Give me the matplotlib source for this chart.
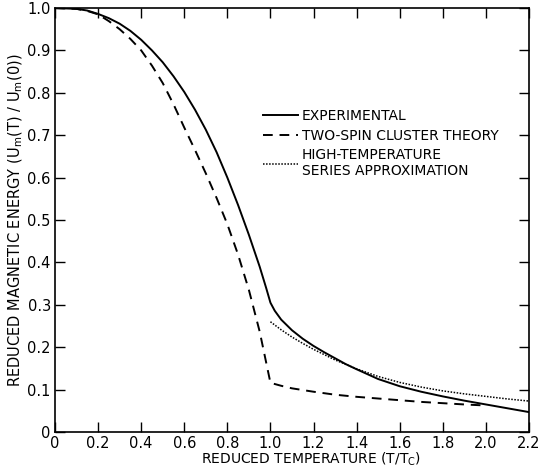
import matplotlib
matplotlib.use("Agg")
import matplotlib.pyplot as plt

# experimental curve
t_exp = [0.0, 0.1, 0.15, 0.2, 0.25, 0.3, 0.35, 0.4, 0.45, 0.5, 0.55, 0.6, 0.65, 0.7,
         0.75, 0.8, 0.85, 0.9, 0.95, 0.98, 1.0,
         1.02, 1.05, 1.1, 1.15, 1.2, 1.25, 1.3, 1.35, 1.4, 1.5, 1.6, 1.7, 1.8, 1.9,
         2.0, 2.1, 2.2]
u_exp = [1.0, 0.998, 0.994, 0.986, 0.976, 0.963, 0.946, 0.925, 0.900, 0.872, 0.839, 0.802,
         0.760, 0.713, 0.660, 0.600, 0.535, 0.465, 0.390, 0.340, 0.305,
         0.286, 0.265, 0.240, 0.220, 0.203, 0.188, 0.174, 0.160, 0.148, 0.125, 0.108,
         0.095, 0.084, 0.074, 0.065, 0.056, 0.047]

# two-spin cluster theory
t_cluster = [0.0, 0.1, 0.15, 0.2, 0.25, 0.3, 0.35, 0.4, 0.45, 0.5, 0.55, 0.6, 0.65, 0.7,
             0.75, 0.8, 0.85, 0.9, 0.95, 1.0,
             1.05, 1.1, 1.2, 1.3, 1.4, 1.5, 1.6, 1.7, 1.8, 1.9, 1.98]
u_cluster = [1.0, 0.998, 0.993, 0.985, 0.969, 0.950, 0.927, 0.900, 0.864, 0.823, 0.773, 0.718,
             0.665, 0.610, 0.552, 0.490, 0.418, 0.335, 0.237, 0.116,
             0.109, 0.103, 0.095, 0.088, 0.083, 0.079, 0.075, 0.071, 0.068, 0.065, 0.063]

# high-temperature series approximation
t_series = [1.0, 1.05, 1.1, 1.15, 1.2, 1.3, 1.4, 1.5, 1.6, 1.7, 1.8, 1.9, 2.0, 2.1, 2.2]
u_series = [0.260, 0.241, 0.224, 0.209, 0.195, 0.170, 0.149, 0.131, 0.117, 0.106, 0.097,
            0.090, 0.084, 0.078, 0.073]

x_ticks = [0.0, 0.2, 0.4, 0.6, 0.8, 1.0, 1.2, 1.4, 1.6, 1.8, 2.0, 2.2]
x_labels = ["0", "0.2", "0.4", "0.6", "0.8", "1.0", "1.2", "1.4", "1.6", "1.8", "2.0", "2.2"]
y_ticks = [0.0, 0.1, 0.2, 0.3, 0.4, 0.5, 0.6, 0.7, 0.8, 0.9, 1.0]
y_labels = ["0", "0.1", "0.2", "0.3", "0.4", "0.5", "0.6", "0.7", "0.8", "0.9", "1.0"]

plt.rcParams["font.family"] = ["DejaVu Sans"]

fig = plt.figure(figsize=(5.41, 4.68), dpi=100)
ax = fig.add_axes([0.1017, 0.0769, 0.876, 0.906])

ax.plot(t_exp, u_exp, color="black", lw=1.4, label="EXPERIMENTAL")
ax.plot(t_cluster, u_cluster, color="black", lw=1.4, dashes=(5, 3.5),
        label="TWO-SPIN CLUSTER THEORY")
ax.plot(t_series, u_series, color="black", lw=1.1, dashes=(1, 1),
        label="HIGH-TEMPERATURE\nSERIES APPROXIMATION")

ax.set_xlim(0, 2.2)
ax.set_ylim(0, 1.0)
ax.set_xticks(x_ticks)
ax.set_xticklabels(x_labels)
ax.set_yticks(y_ticks)
ax.set_yticklabels(y_labels)
ax.tick_params(direction="in", length=7, width=1, top=True, right=True, labelsize=10.5, pad=3)
for s in ax.spines.values():
    s.set_linewidth(1.2)

ax.set_xlabel("REDUCED TEMPERATURE (T/T$_\\mathregular{C}$)", fontsize=10, labelpad=0)
ax.xaxis.set_label_coords(0.54, -0.045)
ax.set_ylabel("REDUCED MAGNETIC ENERGY (U$_\\mathregular{m}$(T) / U$_\\mathregular{m}$(0))",
              fontsize=10.5, labelpad=2)

ax.legend(loc="upper left", bbox_to_anchor=(0.428, 0.775), frameon=False, fontsize=10,
          handlelength=2.5, handletextpad=0.25, labelspacing=0.4, borderaxespad=0)

fig.savefig("out.png", dpi=100)
